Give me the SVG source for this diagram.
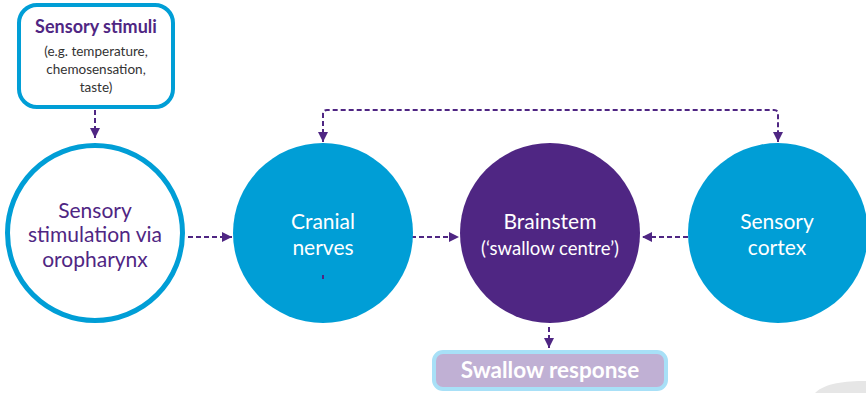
<svg xmlns="http://www.w3.org/2000/svg" width="866" height="393" viewBox="0 0 866 393">
<defs>
<style>
.conn{fill:none;stroke:#4f2683;stroke-width:2;stroke-dasharray:5 3}
.t{font-family:Lato,"Liberation Sans",sans-serif;text-anchor:middle}
.big{font-size:21px}
.w{fill:#ffffff}
.p{fill:#4f2683}
</style>
<marker id="ah" viewBox="0 0 10 10" refX="10" refY="5" markerWidth="5" markerHeight="5" markerUnits="strokeWidth" orient="auto-start-reverse">
<path d="M0,0 L10,5 L0,10 z" fill="#4f2683"/>
</marker>
</defs>
<rect width="866" height="393" fill="#ffffff"/>
<path d="M815,393 C825,383 845,381 866,381 L866,393 Z" fill="#e6e6e6"/>
<g id="connectors">
<line class="conn" x1="95" y1="110" x2="95" y2="138" marker-end="url(#ah)"/>
<line class="conn" x1="188" y1="237" x2="232" y2="237" marker-end="url(#ah)"/>
<line class="conn" x1="403" y1="237" x2="459" y2="237" marker-end="url(#ah)"/>
<line class="conn" x1="688" y1="237" x2="642" y2="237" marker-end="url(#ah)"/>
<line class="conn" x1="549" y1="327" x2="549" y2="348" marker-end="url(#ah)"/>
<path class="conn" d="M323,142 L323,114 Q323,110 327,110 L774,110 Q778,110 778,114 L778,142" marker-start="url(#ah)" marker-end="url(#ah)"/>
</g>
<g id="stimuli">
<rect x="19" y="5" width="154" height="102" rx="18" fill="#ffffff" stroke="#009ed6" stroke-width="4"/>
<text class="t p" x="96" y="33" font-size="18" font-weight="bold">Sensory stimuli</text>
<text class="t" x="96" y="56" font-size="13.5" fill="#333333">(e.g. temperature,</text>
<text class="t" x="96" y="74" font-size="13.5" fill="#333333">chemosensation,</text>
<text class="t" x="96" y="92" font-size="13.5" fill="#333333">taste)</text>
</g>
<g id="oropharynx">
<circle cx="95" cy="233" r="87.5" fill="#ffffff" stroke="#009ed6" stroke-width="5"/>
<text class="t big p" x="95" y="218">Sensory</text>
<text class="t big p" x="95" y="242">stimulation via</text>
<text class="t big p" x="95" y="267">oropharynx</text>
</g>
<g id="cranial">
<circle cx="323" cy="233" r="90" fill="#009ed6"/>
<text class="t big w" x="323" y="229">Cranial</text>
<text class="t big w" x="323" y="255">nerves</text>
<rect x="322" y="275" width="2" height="4" fill="#4f2683"/>
</g>
<g id="brainstem">
<circle cx="550" cy="233" r="90" fill="#4f2683"/>
<text class="t big w" x="550" y="229">Brainstem</text>
<text class="t w" x="550" y="255" font-size="18.5">(‘swallow centre’)</text>
</g>
<g id="cortex">
<circle cx="778" cy="233" r="90" fill="#009ed6"/>
<text class="t big w" x="777" y="229">Sensory</text>
<text class="t big w" x="777" y="255">cortex</text>
</g>
<g id="swallow">
<rect x="434" y="352" width="232" height="37" rx="9" fill="#c0b0d4" stroke="#a8e0f7" stroke-width="4"/>
<text class="t w" x="550" y="378" font-size="22.5" font-weight="bold">Swallow response</text>
</g>
</svg>
